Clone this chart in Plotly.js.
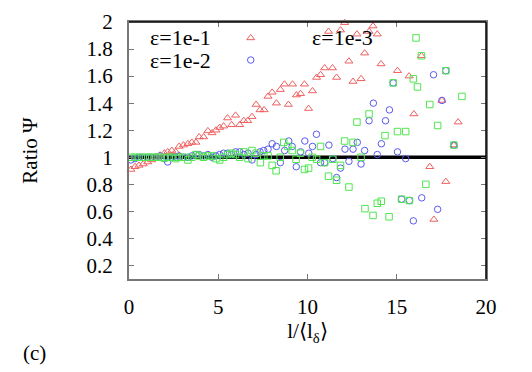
<!DOCTYPE html>
<html>
<head>
<meta charset="utf-8">
<script src="https://cdn.plot.ly/plotly-3.0.1.min.js"></script>
<style>
  body { margin: 0; background: #fff; }
  #plotArea { width: 532px; height: 372px; }
</style>
</head>
<body>
<div id="plotArea"></div>
<script>
// series labels
var names = ["ε=1e-1", "ε=1e-2", "ε=1e-3"];

// eps = 1e-1 (red triangles)
var x1 = [0.11, 0.34, 0.56, 0.80, 1.05, 1.27, 1.50, 1.74, 1.98, 2.17, 2.40, 2.62, 2.81,
  3.05, 3.30, 3.52, 3.75, 3.93, 4.18, 4.42, 4.65, 4.87,
  5.08, 5.30, 5.52, 5.75, 5.97, 6.20, 6.43, 6.65, 6.89,
  7.12, 7.34, 7.57, 7.79, 8.02, 8.26, 8.48, 8.71, 8.93, 9.16, 9.38, 9.61, 9.83,
  10.06, 10.28, 10.51, 10.73, 10.96, 11.18, 11.40, 11.63, 11.85,
  12.08, 12.32, 12.55, 12.77, 13.00, 13.20, 13.45, 13.67, 13.91, 14.12,
  15.04, 15.69, 15.96, 16.38, 16.85, 17.08, 17.53, 17.75, 18.20, 18.44];
var y1 = [0.91, 0.93, 0.94, 0.95, 0.965, 0.98, 1.00, 1.015, 1.03, 1.04, 1.05, 1.04, 1.08,
  1.09, 1.10, 1.11, 1.11, 1.15, 1.15, 1.195, 1.18, 1.20,
  1.22, 1.23, 1.29, 1.24, 1.31, 1.24, 1.27, 1.27, 1.30,
  1.39, 1.35, 1.35, 1.45, 1.48, 1.40, 1.50, 1.54, 1.39, 1.54, 1.46, 1.47, 1.54,
  1.36, 1.49, 1.59, 1.61, 1.66, 1.93, 1.66, 1.59, 1.94,
  1.995, 1.71, 1.56, 1.91, 1.58, 1.77, 1.93, 1.97, 1.91, 1.69,
  1.64, 1.60, 1.32, 1.75, 0.93, 0.54, 1.42, 0.82, 1.09, 1.26];

// eps = 1e-2 (blue circles)
var x2 = [0.11, 0.34, 0.56, 0.80, 1.05, 1.27, 1.50, 1.74, 1.98, 2.17, 2.40, 2.62, 2.81,
  3.05, 3.30, 3.52, 3.75, 3.93, 4.18, 4.42, 4.65, 4.87,
  5.08, 5.30, 5.52, 5.75, 5.97, 6.20, 6.43, 6.67, 6.89,
  7.12, 7.34, 7.55, 7.79, 8.02, 8.26, 8.48, 8.72, 8.95, 9.14, 9.37, 9.61, 9.85,
  10.07, 10.28, 10.50, 10.73, 10.96, 11.20, 11.42, 11.63, 11.85,
  12.10, 12.32, 12.55, 12.79, 13.00, 13.20, 13.45, 13.69, 13.91, 14.14, 14.37, 14.59, 14.80,
  15.04, 15.27, 15.50, 15.71, 15.93, 16.40, 17.06, 17.29, 17.53, 17.75, 18.20];
var y2 = [0.98, 0.99, 1.00, 1.00, 1.00, 1.00, 1.00, 1.01, 0.99, 0.965, 1.00, 1.00, 1.01,
  1.00, 1.00, 1.01, 1.02, 1.02, 1.01, 1.02, 1.00, 1.01,
  1.02, 1.03, 1.03, 1.02, 1.04, 1.04, 1.02, 1.03, 0.98,
  1.02, 1.04, 1.05, 1.06, 1.10, 1.08, 0.96, 1.05, 1.12, 1.08, 0.93, 1.04, 1.12,
  1.03, 1.08, 1.17, 0.96, 0.96, 1.09, 0.99, 0.85, 0.92,
  1.06, 0.97, 1.06, 1.11, 0.95, 1.05, 1.27, 1.40, 1.02, 1.10, 1.27, 1.35, 1.55,
  1.04, 0.69, 0.99, 0.68, 0.53, 0.70, 1.61, 0.615, 1.42, 1.64, 1.09];

// eps = 1e-3 (green squares)
var x3 = [0.11, 0.34, 0.56, 0.80, 1.05, 1.27, 1.50, 1.74, 1.98, 2.17, 2.40, 2.62, 2.81,
  3.05, 3.30, 3.52, 3.75, 3.93, 4.18, 4.42, 4.65, 4.87,
  5.08, 5.30, 5.52, 5.75, 5.97, 6.20, 6.43, 6.67, 6.89,
  7.12, 7.36, 7.55, 7.79, 8.02, 8.24, 8.47, 8.67, 8.90, 9.14, 9.36, 9.61, 9.83,
  10.06, 10.26, 10.51, 10.73, 10.96, 11.18, 11.42, 11.63, 11.85,
  12.08, 12.32, 12.55, 12.77, 13.00, 13.22, 13.45, 13.67, 13.91, 14.13, 14.34, 14.57, 14.80,
  15.04, 15.27, 15.50, 15.71, 15.93, 16.16, 16.38, 16.63, 16.85, 17.29, 17.75, 18.20, 18.65];
var y3 = [1.00, 1.00, 1.00, 1.00, 1.00, 1.00, 1.00, 1.00, 0.995, 1.00, 1.00, 0.99, 1.00,
  1.00, 0.98, 1.00, 1.02, 1.01, 1.00, 1.01, 1.01, 0.99,
  0.98, 1.00, 1.02, 1.03, 1.02, 1.00, 1.04, 0.99, 1.05,
  1.03, 0.96, 1.01, 1.01, 0.94, 0.90, 1.00, 1.11, 1.08, 1.05, 0.985, 1.03, 0.91,
  0.92, 1.00, 0.985, 1.08, 0.96, 0.86, 0.985, 0.83, 0.94,
  1.12, 0.78, 1.11, 1.26, 1.00, 0.62, 1.32, 0.57, 0.66, 0.675, 1.16, 0.56, 1.55,
  1.19, 0.69, 1.19, 0.68, 1.58, 1.52, 1.75, 0.80, 1.39, 1.235, 1.64, 1.09, 1.45];

var xTicks = [0, 5, 10, 15, 20];
var yTicks = [0.2, 0.4, 0.6, 0.8, 1, 1.2, 1.4, 1.6, 1.8, 2];

var red = "rgb(238,96,96)", blue = "rgb(90,90,238)", green = "rgb(80,230,80)";
var serif = "Liberation Serif";

function pts(x, y, sym, col, size) {
  return {x: x, y: y, type: "scatter", mode: "markers", cliponaxis: false, showlegend: false,
    marker: {symbol: sym, size: size, color: col, line: {color: col, width: 1}}};
}

// legend keys on a hidden 0..1 overlay axis (gnuplot puts the sample right of the text)
function key(kx, ky, sym, col, size) {
  var t = pts([kx], [ky], sym, col, size);
  t.xaxis = "x2"; t.yaxis = "y2";
  return t;
}

var data = [
  pts(x1, y1, "triangle-up-open", red, 7),
  pts(x2, y2, "circle-open", blue, 6.5),
  pts(x3, y3, "square-open", green, 6.5),
  key(0.341, 0.938, "triangle-up-open", red, 7),
  key(0.341, 0.852, "circle-open", blue, 6.5),
  key(0.804, 0.938, "square-open", green, 6.5)
];

var layout = {
  width: 532, height: 372,
  margin: {l: 129, r: 46, t: 22, b: 93},
  paper_bgcolor: "#fff", plot_bgcolor: "#fff",
  font: {family: serif, size: 21, color: "#000"},
  xaxis: {
    range: [0, 20], tickvals: xTicks, ticktext: xTicks.map(String),
    ticks: "inside", ticklen: 5, tickcolor: "#777", tickwidth: 1,
    showline: true, linecolor: "#777", linewidth: 2, mirror: "ticks",
    showgrid: false, zeroline: false, ticklabelstandoff: 8,
    tickfont: {family: serif, size: 21, color: "#000"},
    title: {text: "l/⟨l<sub>δ</sub>⟩", font: {family: serif, size: 21}, standoff: 4}
  },
  yaxis: {
    range: [0.1, 2], tickvals: yTicks, ticktext: yTicks.map(String),
    ticks: "inside", ticklen: 5, tickcolor: "#777", tickwidth: 1,
    showline: true, linecolor: "#777", linewidth: 2, mirror: "ticks",
    showgrid: false, zeroline: false, ticklabelstandoff: 10,
    tickfont: {family: serif, size: 21, color: "#000"},
    title: {text: "Ratio Ψ", font: {family: serif, size: 21}, standoff: 43}
  },
  xaxis2: {overlaying: "x", range: [0, 1], visible: false, fixedrange: true},
  yaxis2: {overlaying: "y", range: [0, 1], visible: false, fixedrange: true},
  shapes: [
    {type: "line", xref: "paper", x0: 0, x1: 1, yref: "y", y0: 1, y1: 1,
      line: {color: "#000", width: 3.5}, layer: "below"},
    {type: "line", xref: "paper", yref: "paper", x0: 0, x1: 1, y0: 1, y1: 1,
      line: {color: "#000", width: 1.5}},
    {type: "line", xref: "paper", yref: "paper", x0: 1, x1: 1, y0: 0, y1: 1,
      line: {color: "#000", width: 1.5}}
  ],
  annotations: [
    {text: names[0], xref: "paper", yref: "paper", x: 0.053, y: 0.938, xanchor: "left", yanchor: "middle",
      showarrow: false, font: {family: serif, size: 22}},
    {text: names[1], xref: "paper", yref: "paper", x: 0.053, y: 0.852, xanchor: "left", yanchor: "middle",
      showarrow: false, font: {family: serif, size: 22}},
    {text: names[2], xref: "paper", yref: "paper", x: 0.507, y: 0.938, xanchor: "left", yanchor: "middle",
      showarrow: false, font: {family: serif, size: 22}},
    {text: "(c)", xref: "paper", yref: "paper", x: -0.266, y: -0.288, xanchor: "center", yanchor: "middle",
      showarrow: false, font: {family: serif, size: 21}}
  ]
};

Plotly.newPlot("plotArea", data, layout, {displayModeBar: false, staticPlot: true});
</script>
</body>
</html>
